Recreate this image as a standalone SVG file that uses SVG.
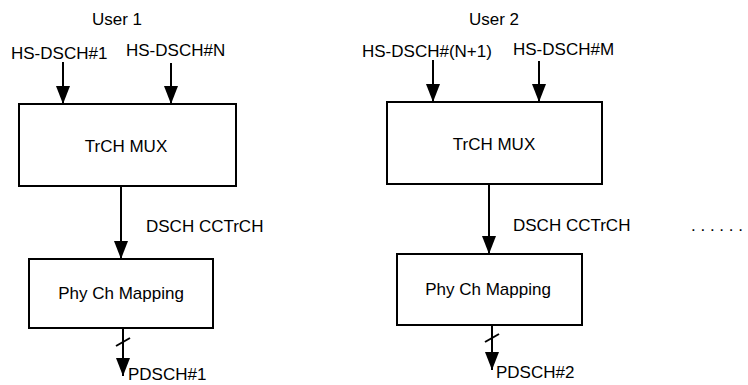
<svg xmlns="http://www.w3.org/2000/svg" width="748" height="385" viewBox="0 0 748 385">
<style>
text{font-family:"Liberation Sans",Arial,sans-serif;font-size:17px;fill:#000}
.c{text-anchor:middle}
.box{fill:#fff;stroke:#000;stroke-width:2}
.ln{stroke:#000;stroke-width:2;fill:none}
.ar{marker-end:url(#ah)}
</style>
<defs>
<marker id="ah" markerUnits="userSpaceOnUse" markerWidth="18" markerHeight="14" refX="18" refY="7" orient="auto">
<path d="M0,0 L18,7 L0,14 z" fill="#000"/>
</marker>
</defs>
<rect width="748" height="385" fill="#fff"/>
<g id="user1">
<text class="c" x="117" y="25">User 1</text>
<text x="11" y="59">HS-DSCH#1</text>
<text x="126" y="56">HS-DSCH#N</text>
</g>
<g id="mux1">
<rect class="box" x="19" y="104" width="217" height="82"/>
<text class="c" x="126" y="152">TrCH MUX</text>
</g>
<g id="map1">
<rect class="box" x="29" y="259" width="184" height="69"/>
<text class="c" x="121" y="299">Phy Ch Mapping</text>
</g>
<g id="labels1">
<text x="146" y="232">DSCH CCTrCH</text>
<text x="128" y="380">PDSCH#1</text>
</g>
<g id="user2">
<text class="c" x="494" y="25">User 2</text>
<text x="362" y="57">HS-DSCH#(N+1)</text>
<text x="513" y="55">HS-DSCH#M</text>
</g>
<g id="mux2">
<rect class="box" x="387" y="102" width="215" height="82"/>
<text class="c" x="494" y="150">TrCH MUX</text>
</g>
<g id="map2">
<rect class="box" x="397" y="254" width="185" height="71"/>
<text class="c" x="488" y="295">Phy Ch Mapping</text>
</g>
<g id="labels2">
<text x="513" y="231">DSCH CCTrCH</text>
<text x="496" y="378">PDSCH#2</text>
<text x="691" y="231">. . . . . .</text>
</g>
<g id="connectors">
<line class="ln ar" x1="63" y1="62" x2="63" y2="104"/>
<line class="ln ar" x1="171" y1="63" x2="171" y2="104"/>
<line class="ln ar" x1="121" y1="186" x2="121" y2="259"/>
<line class="ln ar" x1="123" y1="328" x2="123" y2="376"/>
<line class="ln" x1="116" y1="346" x2="130" y2="338"/>
<line class="ln ar" x1="433" y1="60" x2="433" y2="102"/>
<line class="ln ar" x1="539" y1="61" x2="539" y2="102"/>
<line class="ln ar" x1="489" y1="184" x2="489" y2="254"/>
<line class="ln ar" x1="492" y1="325" x2="492" y2="370"/>
<line class="ln" x1="485" y1="342" x2="499" y2="334"/>
</g>
</svg>
